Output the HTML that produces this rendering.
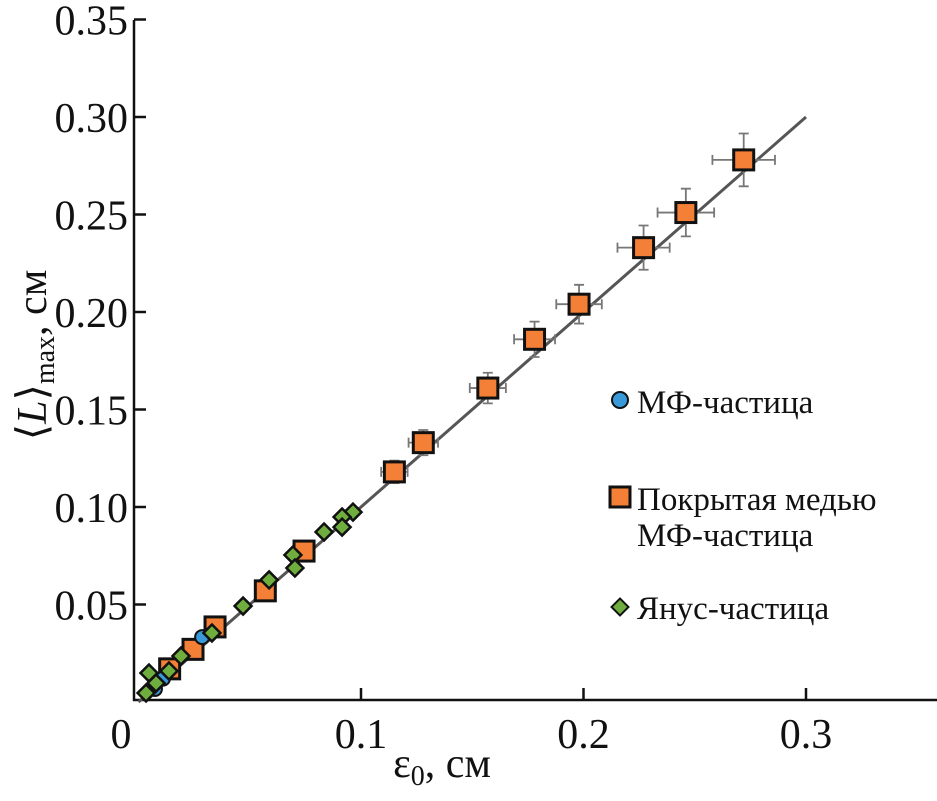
<!DOCTYPE html>
<html><head><meta charset="utf-8"><style>
body{margin:0;background:#fff}
svg text{font-family:"Liberation Serif",serif;fill:#111}
</style></head><body>
<svg id="chart" width="937" height="796" xmlns="http://www.w3.org/2000/svg">
<g id="axes"></g>
<g id="marks"></g>
<g id="legend">
<circle cx="620" cy="400" r="8" fill="#3a9ad9" stroke="#111" stroke-width="2"/>
<text x="637" y="413" font-size="33">МФ-частица</text>
<rect x="610" y="487" width="20" height="20" fill="#f47f36" stroke="#111" stroke-width="3"/>
<text x="637" y="510" font-size="33">Покрытая медью</text>
<text x="637" y="546" font-size="33">МФ-частица</text>
<rect x="614" y="601" width="12" height="12" fill="#6fae3e" stroke="#111" stroke-width="2" transform="rotate(45 620 607)"/>
<text x="637" y="619" font-size="33">Янус-частица</text>
</g>
</svg>
<script>
const xTicks=[0,0.1,0.2,0.3];
const xTickLabels=["0","0.1","0.2","0.3"];
const yTicks=[0.05,0.10,0.15,0.20,0.25,0.30,0.35];
const yTickLabels=["0.05","0.10","0.15","0.20","0.25","0.30","0.35"];
const cuX=[0.272,0.246,0.227,0.198,0.178,0.157,0.128,0.115,0.0744,0.057,0.0344,0.0245,0.014];
const cuY=[0.278,0.251,0.233,0.204,0.186,0.161,0.133,0.118,0.0774,0.057,0.0385,0.027,0.017];
const janusX=[0.0964,0.0915,0.0915,0.0834,0.0694,0.0703,0.0587,0.047,0.033,0.0191,0.0137,0.0047,0.0079,0.0034];
const janusY=[0.0974,0.0949,0.0897,0.0872,0.0754,0.0687,0.0626,0.0492,0.0354,0.0236,0.0159,0.0149,0.0097,0.0046];
const mfX=[0.0286,0.0074,0.011];
const mfY=[0.0333,0.0067,0.012];
const fitX=[0,0.3];
const fitY=[0,0.3];
const NS="http://www.w3.org/2000/svg";
const sx=v=>138.5+v*2225;
const sy=v=>702-v*1950;
function mk(tag,parent,attrs){const e=document.createElementNS(NS,tag);for(const k in attrs)e.setAttribute(k,attrs[k]);parent.appendChild(e);return e;}
const ax=document.getElementById('axes'),mg=document.getElementById('marks');
let e=mk('line',ax,{x1:134,y1:20,x2:134,y2:701,stroke:'#111','stroke-width':2.5});


e=mk('line',ax,{x1:133,y1:700,x2:937,y2:700,stroke:'#111','stroke-width':2.5});


yTicks.forEach((v,i)=>{
 e=mk('line',ax,{x1:134,y1:sy(v),x2:146,y2:sy(v),stroke:'#111','stroke-width':2.5});
 
 
 e=mk('text',ax,{x:128,y:sy(v)+15,'font-size':42,'text-anchor':'end'});e.textContent=yTickLabels[i];
 
 
});
xTicks.forEach((v,i)=>{
 if(v>0){e=mk('line',ax,{x1:sx(v),y1:700,x2:sx(v),y2:688,stroke:'#111','stroke-width':2.5});
 
 }
 e=mk('text',ax,{x:v===0?121:sx(v),y:748,'font-size':42,'text-anchor':'middle'});e.textContent=xTickLabels[i];
 
 
});
e=mk('text',ax,{x:442,y:777,'font-size':42,'text-anchor':'middle'});
e.innerHTML='ε<tspan font-size="28" dy="8">0</tspan><tspan dy="-8">, см</tspan>';


e=mk('text',ax,{x:0,y:0,'font-size':42,'text-anchor':'middle',transform:'translate(46,355) rotate(-90)'});
e.innerHTML='⟨<tspan font-style="italic">L</tspan>⟩<tspan font-size="28" dy="8">max</tspan><tspan dy="-8">, см</tspan>';


e=mk('line',mg,{x1:sx(fitX[0]),y1:sy(fitY[0]),x2:sx(fitX[1]),y2:sy(fitY[1]),stroke:'#555','stroke-width':3});


cuX.forEach((x,i)=>{
 const px=sx(x),py=sy(cuY[i]);
 if(x>0.1){const dx=x*115,dy=cuY[i]*95;
  e=mk('path',mg,{d:`M${px-dx} ${py}H${px+dx}M${px-dx} ${py-5}V${py+5}M${px+dx} ${py-5}V${py+5}M${px} ${py-dy}V${py+dy}M${px-5} ${py-dy}H${px+5}M${px-5} ${py+dy}H${px+5}`,stroke:'#777','stroke-width':1.8,fill:'none'});
  
  }
 e=mk('rect',mg,{x:px-10,y:py-10,width:20,height:20,fill:'#f47f36',stroke:'#111','stroke-width':3});
 
 
});
mfX.forEach((x,i)=>{
 e=mk('circle',mg,{cx:sx(x),cy:sy(mfY[i]),r:7,fill:'#3a9ad9',stroke:'#111','stroke-width':2});
 
 
});
janusX.forEach((x,i)=>{
 const px=sx(x),py=sy(janusY[i]);
 e=mk('rect',mg,{x:px-6,y:py-6,width:12,height:12,fill:'#6fae3e',stroke:'#111','stroke-width':2.5,transform:`rotate(45 ${px} ${py})`});
 
 
});
</script>
</body></html>
